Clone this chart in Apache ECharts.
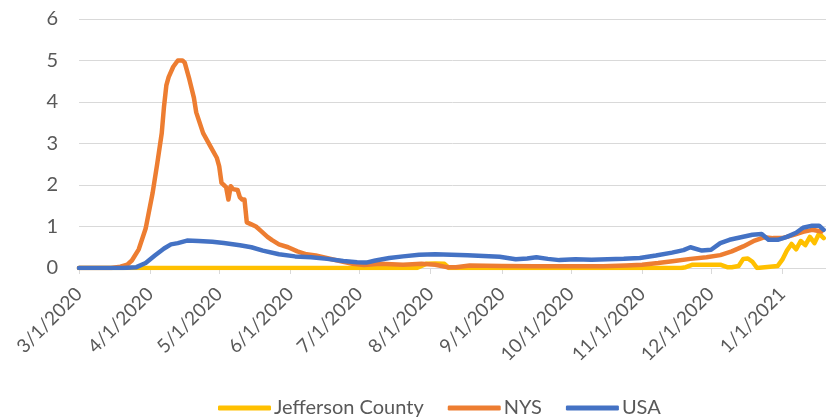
<!DOCTYPE html>
<html>
<head>
<meta charset="utf-8">
<script src="https://cdn.jsdelivr.net/npm/echarts@6/dist/echarts.min.js"></script>
<style>
  html, body { margin: 0; padding: 0; background: #fff; }
  #chart { width: 826px; height: 418px; }
</style>
</head>
<body>
<div id="chart"></div>
<script>
// 月初刻度
const monthTicks = ['2020-03-01', '2020-04-01', '2020-05-01', '2020-06-01', '2020-07-01', '2020-08-01',
  '2020-09-01', '2020-10-01', '2020-11-01', '2020-12-01', '2021-01-01']
const yTicks = [0, 1, 2, 3, 4, 5, 6]

// Jefferson County
const jeffersonData = [
  ['2020-03-01', 0], ['2020-07-26', 0], ['2020-07-30', 0.1], ['2020-08-03', 0.11], ['2020-08-07', 0.1],
  ['2020-08-09', 0], ['2020-11-18', 0], ['2020-11-20', 0.02], ['2020-11-23', 0.08], ['2020-12-05', 0.08],
  ['2020-12-08', 0.02], ['2020-12-10', 0.02], ['2020-12-13', 0.05], ['2020-12-15', 0.22], ['2020-12-17', 0.23],
  ['2020-12-19', 0.15], ['2020-12-21', 0], ['2020-12-30', 0.05], ['2021-01-01', 0.2], ['2021-01-03', 0.42],
  ['2021-01-05', 0.58], ['2021-01-07', 0.45], ['2021-01-09', 0.65], ['2021-01-11', 0.55], ['2021-01-13', 0.75],
  ['2021-01-15', 0.6], ['2021-01-17', 0.83], ['2021-01-19', 0.72]
]

// NYS
const nysData = [
  ['2020-03-01', 0], ['2020-03-15', 0], ['2020-03-19', 0.03], ['2020-03-22', 0.08], ['2020-03-24', 0.18],
  ['2020-03-27', 0.45], ['2020-03-30', 0.95], ['2020-04-02', 1.8], ['2020-04-04', 2.5], ['2020-04-06', 3.25],
  ['2020-04-07', 3.9], ['2020-04-08', 4.4], ['2020-04-09', 4.6], ['2020-04-11', 4.85], ['2020-04-13', 5.0],
  ['2020-04-15', 5.0], ['2020-04-16', 4.95], ['2020-04-18', 4.55], ['2020-04-20', 4.1], ['2020-04-21', 3.75],
  ['2020-04-24', 3.25], ['2020-04-27', 2.95], ['2020-04-30', 2.65], ['2020-05-01', 2.45], ['2020-05-02', 2.05],
  ['2020-05-03', 2.0], ['2020-05-04', 1.95], ['2020-05-05', 1.65], ['2020-05-06', 1.97], ['2020-05-07', 1.9],
  ['2020-05-09', 1.88], ['2020-05-10', 1.7], ['2020-05-11', 1.65], ['2020-05-12', 1.65], ['2020-05-13', 1.1],
  ['2020-05-15', 1.05], ['2020-05-17', 1.0], ['2020-05-19', 0.9], ['2020-05-22', 0.75], ['2020-05-24', 0.67],
  ['2020-05-27', 0.57], ['2020-05-31', 0.5], ['2020-06-04', 0.4], ['2020-06-08', 0.33], ['2020-06-12', 0.3],
  ['2020-06-20', 0.2], ['2020-06-28', 0.1], ['2020-07-03', 0.07], ['2020-07-10', 0.1], ['2020-07-20', 0.08],
  ['2020-07-28', 0.1], ['2020-08-03', 0.08], ['2020-08-08', 0.02], ['2020-08-12', 0.02], ['2020-08-18', 0.06],
  ['2020-09-01', 0.05], ['2020-09-15', 0.04], ['2020-10-01', 0.04], ['2020-10-15', 0.04], ['2020-10-25', 0.06],
  ['2020-11-01', 0.08], ['2020-11-08', 0.12], ['2020-11-15', 0.17], ['2020-11-22', 0.22], ['2020-11-29', 0.26],
  ['2020-12-05', 0.31], ['2020-12-10', 0.4], ['2020-12-15', 0.52], ['2020-12-20', 0.66], ['2020-12-24', 0.74],
  ['2020-12-28', 0.72], ['2021-01-01', 0.72], ['2021-01-06', 0.8], ['2021-01-10', 0.87], ['2021-01-14', 0.92],
  ['2021-01-18', 0.88]
]

// USA
const usaData = [
  ['2020-03-01', 0], ['2020-03-20', 0], ['2020-03-26', 0.02], ['2020-03-30', 0.12], ['2020-04-03', 0.3],
  ['2020-04-07', 0.47], ['2020-04-10', 0.57], ['2020-04-13', 0.6], ['2020-04-17', 0.66], ['2020-04-22', 0.65],
  ['2020-04-28', 0.63], ['2020-05-03', 0.6], ['2020-05-10', 0.55], ['2020-05-15', 0.5], ['2020-05-20', 0.42],
  ['2020-05-27', 0.33], ['2020-06-03', 0.28], ['2020-06-10', 0.26], ['2020-06-17', 0.22], ['2020-06-24', 0.17],
  ['2020-06-30', 0.14], ['2020-07-04', 0.13], ['2020-07-08', 0.18], ['2020-07-14', 0.24], ['2020-07-20', 0.28],
  ['2020-07-27', 0.32], ['2020-08-03', 0.33], ['2020-08-10', 0.32], ['2020-08-17', 0.31], ['2020-08-24', 0.29],
  ['2020-08-31', 0.27], ['2020-09-07', 0.21], ['2020-09-12', 0.23], ['2020-09-16', 0.26], ['2020-09-21', 0.22],
  ['2020-09-26', 0.19], ['2020-10-03', 0.21], ['2020-10-10', 0.2], ['2020-10-17', 0.21], ['2020-10-24', 0.22],
  ['2020-10-31', 0.24], ['2020-11-07', 0.3], ['2020-11-14', 0.37], ['2020-11-19', 0.43], ['2020-11-22', 0.5],
  ['2020-11-27', 0.42], ['2020-12-01', 0.44], ['2020-12-05', 0.6], ['2020-12-09', 0.68], ['2020-12-14', 0.74],
  ['2020-12-19', 0.8], ['2020-12-23', 0.82], ['2020-12-26', 0.68], ['2020-12-30', 0.68], ['2021-01-03', 0.75],
  ['2021-01-07', 0.85], ['2021-01-10', 0.97], ['2021-01-14', 1.02], ['2021-01-17', 1.02], ['2021-01-19', 0.92]
]

// 日期字符串 -> 时间戳（UTC，避免时区偏移）
const toTime = (s) => {
  const p = s.split('-').map(Number)
  return Date.UTC(p[0], p[1] - 1, p[2])
}
const toPoints = (arr) => arr.map((d) => [toTime(d[0]), d[1]])
const tickTimes = monthTicks.map(toTime)

const myChart = echarts.init(document.getElementById('chart'), null, { renderer: 'canvas' })
const txt = '#595959'
const font = 'Lato, "Open Sans", sans-serif'

const line = (name, color, data) => ({
  name: name,
  type: 'line',
  data: toPoints(data),
  symbol: 'none',
  smooth: false,
  lineStyle: { color: color, width: 4.5, cap: 'round', join: 'round' },
  itemStyle: { color: color }
})

const option = {
  animation: false,
  grid: { left: 79, right: 0, top: 19, bottom: 150 },
  legend: {
    top: 393,
    left: 213,
    icon: 'roundRect',
    itemWidth: 53,
    itemHeight: 5,
    itemGap: 24,
    textStyle: { color: txt, fontSize: 20, fontFamily: font, padding: [0, 0, 0, -2] },
    data: ['Jefferson County', 'NYS', 'USA']
  },
  xAxis: {
    type: 'value',
    min: toTime('2020-03-01'),
    max: toTime('2021-01-20'),
    axisLine: { show: true, onZero: false, lineStyle: { color: '#d9d9d9', width: 1 } },
    axisTick: { show: true, length: 6, customValues: tickTimes, lineStyle: { color: '#d9d9d9' } },
    splitLine: { show: false },
    axisLabel: {
      customValues: tickTimes,
      rotate: 45,
      color: txt,
      fontSize: 19,
      fontFamily: font,
      margin: 23,
      formatter: (v) => {
        const d = new Date(v)
        return (d.getUTCMonth() + 1) + '/' + d.getUTCDate() + '/' + d.getUTCFullYear()
      }
    }
  },
  yAxis: {
    type: 'value',
    min: yTicks[0],
    max: yTicks[yTicks.length - 1],
    interval: 1,
    axisLine: { show: false },
    axisTick: { show: false },
    splitLine: { lineStyle: { color: '#d9d9d9', width: 1 } },
    axisLabel: { color: txt, fontSize: 20, fontFamily: font, margin: 21 }
  },
  series: [
    line('Jefferson County', '#FFC000', jeffersonData),
    line('NYS', '#ED7D31', nysData),
    line('USA', '#4472C4', usaData)
  ]
}
myChart.setOption(option)
</script>
</body>
</html>
